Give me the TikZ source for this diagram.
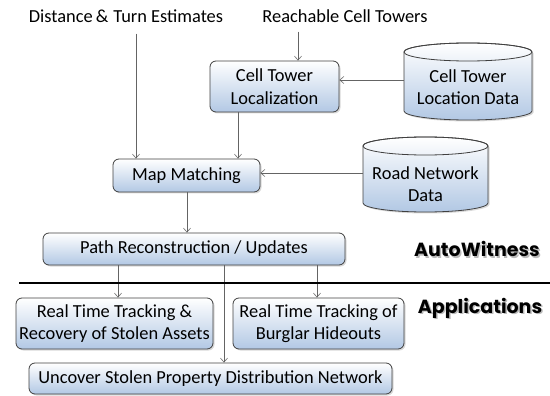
\documentclass[tikz,border=0pt]{standalone}
\usepackage{fontspec}
\setmainfont{Carlito}
\newfontfamily\headfont{Poppins}
\usetikzlibrary{arrows.meta,shadows}
\definecolor{boxblue}{RGB}{178,200,228}
\definecolor{edgegray}{RGB}{64,64,64}
\definecolor{arrgray}{RGB}{100,100,100}
\tikzset{
  box/.style={draw=edgegray, line width=0.8pt, rounded corners=6pt, top color=white, bottom color=boxblue,
    align=center, inner sep=0pt, drop shadow={opacity=0.3, shadow xshift=1.5pt, shadow yshift=-1.5pt}},
  lbl/.style={inner sep=0pt, align=center},
  arr/.style={draw=arrgray, line width=0.6pt, -{Straight Barb[length=4pt,width=7pt]}},
  cyl/.style={draw=edgegray, line width=0.8pt, top color=white, bottom color=boxblue},
  head/.style={inner sep=0pt, font=\headfont\bfseries\fontsize{19}{22}\selectfont}
}
\begin{document}
\begin{tikzpicture}[x=1pt,y=1pt, font=\fontsize{18.4}{22.5}\selectfont]
\useasboundingbox (0,0) rectangle (550,-396);
% texts on top
\node[lbl] (dist) at (126,-16) {Distance\,\&\;Turn Estimates};
\node[lbl] (reach) at (345,-16) {Reachable Cell Towers};
% boxes
\node[box, minimum width=129, minimum height=51] (ctl) at (274.5,-86.5) {Cell Tower\\Localization};
\node[box, minimum width=147, minimum height=33] (mm) at (186.5,-175.5) {Map Matching};
\node[box, minimum width=302, minimum height=32] (pr) at (194,-249) {Path Reconstruction / Updates};
\node[box, minimum width=197, minimum height=51] (rt) at (114.5,-323.5) {Real Time Tracking \&\\Recovery of Stolen Assets};
\node[box, minimum width=171, minimum height=51] (bh) at (318.5,-323.5) {Real Time Tracking of\\Burglar Hideouts};
\node[box, minimum width=363, minimum height=31] (us) at (210.5,-378.5) {Uncover Stolen Property Distribution Network};
% cylinders
\path[cyl, drop shadow={opacity=0.3, shadow xshift=1.5pt, shadow yshift=-1.5pt}]
  (404,-52) -- (404,-111) arc[start angle=180,end angle=360,x radius=64,y radius=9]
  -- (532,-52) arc[start angle=0,end angle=180,x radius=64,y radius=9] -- cycle;
\draw[edgegray, line width=0.8pt] (468,-52) ellipse[x radius=64,y radius=9];
\node[lbl, minimum width=128, minimum height=77] (ctd) at (468,-81.5) {};
\node[lbl] at (468,-87) {Cell Tower\\Location Data};
\path[cyl, drop shadow={opacity=0.3, shadow xshift=1.5pt, shadow yshift=-1.5pt}]
  (363,-146) -- (363,-203) arc[start angle=180,end angle=360,x radius=62.5,y radius=9]
  -- (488,-146) arc[start angle=0,end angle=180,x radius=62.5,y radius=9] -- cycle;
\draw[edgegray, line width=0.8pt] (425.5,-146) ellipse[x radius=62.5,y radius=9];
\node[lbl, minimum width=125, minimum height=75] (rnd) at (425.5,-174.5) {};
\node[lbl] at (425.5,-184) {Road Network\\Data};
% connector x positions
\coordinate (xa) at (298,0);
\coordinate (xb) at (136,0);
\coordinate (xc) at (238,0);
\coordinate (xd) at (187,0);
\coordinate (xe) at (118,0);
\coordinate (xf) at (317,0);
\coordinate (xg) at (224,0);
\coordinate (ya) at (0,-80);
\coordinate (yb) at (0,-173);
% connectors
\draw[arr] ([yshift=-9pt]reach.south -| xa) -- (ctl.north -| xa);
\draw[arr] ([yshift=-11pt]dist.south -| xb) -- (mm.north -| xb);
\draw[arr] (ctl.south -| xc) -- (mm.north -| xc);
\draw[arr] (ctd.west |- ya) -- (ctl.east |- ya);
\draw[arr] (rnd.west |- yb) -- (mm.east |- yb);
\draw[arr] (mm.south -| xd) -- (pr.north -| xd);
\draw[arr] (pr.south -| xe) -- (rt.north -| xe);
\draw[arr] (pr.south -| xf) -- (bh.north -| xf);
\draw[arr] (pr.south -| xg) -- (us.north -| xg);
% separator
\coordinate (l1) at (19,-283);
\coordinate (l2) at (550,-283);
\draw[line width=2pt] (l1) -- (l2);
% headings with shadow
\node[head, text=black!45, opacity=0.6] at (478.5,-250.5) {AutoWitness};
\node[head] (aw) at (477,-249) {AutoWitness};
\node[head, text=black!45, opacity=0.6] at (481.5,-309.5) {Applications};
\node[head] (ap) at (480,-308) {Applications};
\end{tikzpicture}
\end{document}
